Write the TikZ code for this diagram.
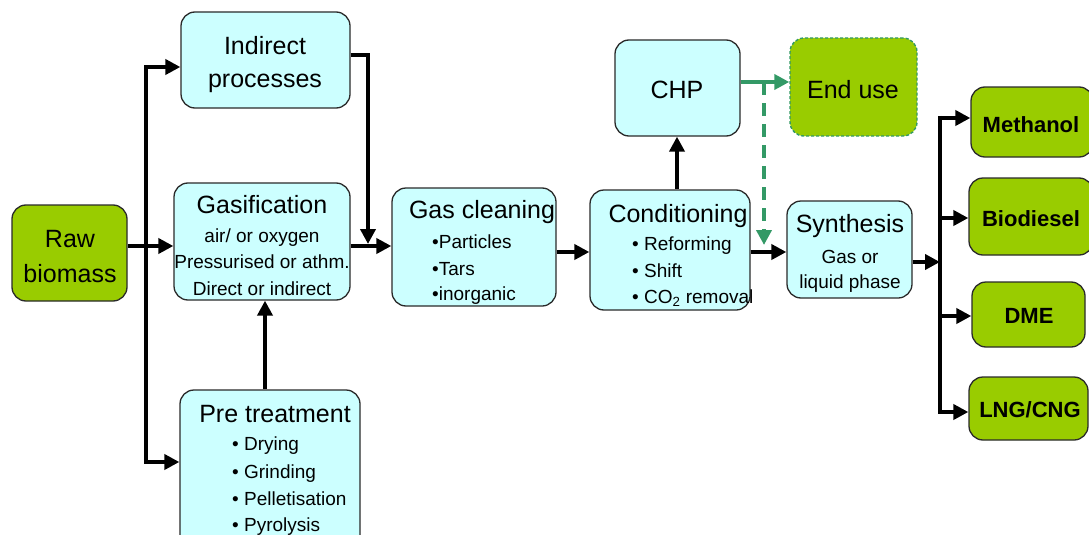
\documentclass[tikz,border=0pt]{standalone}
\usepackage{fontspec}
\setmainfont{Liberation Sans}
\usetikzlibrary{arrows.meta}
\definecolor{cyanbox}{HTML}{CCFFFF}
\definecolor{greenbox}{HTML}{99CC00}
\definecolor{greenline}{HTML}{339966}
\definecolor{edgecol}{HTML}{2A2A2A}
\begin{document}
\begin{tikzpicture}[x=1pt,y=-1pt,
  box/.style={draw=edgecol, line width=1.3pt, rounded corners=14pt, inner sep=0pt},
  cbox/.style={box, fill=cyanbox},
  gbox/.style={box, fill=greenbox},
  arr/.style={line width=4.4pt, -{Triangle[length=15pt,width=15pt]}},
  garr/.style={draw=greenline, line width=4.2pt, -{Triangle[length=15pt,width=15pt]}},
  gdash/.style={garr, dash pattern=on 13pt off 8pt},
  ttl/.style={font=\fontsize{25}{30}\selectfont, inner sep=0pt, anchor=base},
  sub/.style={font=\fontsize{19}{24}\selectfont, inner sep=0pt, anchor=base},
  subl/.style={sub, anchor=base west},
  outtxt/.style={font=\bfseries\fontsize{22}{26}\selectfont, inner sep=0pt, anchor=base}
]
\useasboundingbox (0,0) rectangle (1089,535);

% ---------- boxes ----------
\node[gbox, minimum width=115pt, minimum height=96pt] (raw) at (69.5,253) {};
\node[cbox, minimum width=169pt, minimum height=96pt] (indirect) at (265.5,60) {};
\node[cbox, minimum width=176pt, minimum height=117pt] (gas) at (262,241.5) {};
\node[cbox, minimum width=180pt, minimum height=160pt] (pre) at (270,470) {};
\node[cbox, minimum width=164pt, minimum height=118pt] (clean) at (474,247) {};
\node[cbox, minimum width=160pt, minimum height=120pt] (cond) at (670,250) {};
\node[cbox, minimum width=125pt, minimum height=96pt] (chp) at (677.5,88) {};
\node[box, fill=greenbox, draw=greenline, dash pattern=on 3pt off 2pt, line width=1.4pt, minimum width=127pt, minimum height=98pt] (enduse) at (853.5,87) {};
\node[cbox, minimum width=125pt, minimum height=97pt] (synth) at (849.5,249.5) {};
\node[gbox, minimum width=122pt, minimum height=70pt] (meth) at (1032,122) {};
\node[gbox, minimum width=124pt, minimum height=77pt] (bio) at (1031,216.5) {};
\node[gbox, minimum width=113pt, minimum height=65pt] (dme) at (1028.5,314.5) {};
\node[gbox, minimum width=119pt, minimum height=63pt] (lng) at (1028.5,408.5) {};

% ---------- texts ----------
\node[ttl] (rawa) at (70,247) {Raw};
\node[ttl] (rawb) at (70,282) {biomass};

\node[ttl] (inda) at (265,55) {Indirect};
\node[ttl] (indb) at (265,88) {processes};

\node[ttl] (gast) at (262,213) {Gasification};
\node[sub] (gas1) at (262,242) {air/ or oxygen};
\node[sub] (gas2) at (262,268) {Pressurised or athm.};
\node[sub] (gas3) at (262,295) {Direct or indirect};

\node[ttl] (pret) at (275,422) {Pre treatment};
\node[subl] (pre1) at (232,450) {• Drying};
\node[subl] (pre2) at (232,478) {• Grinding};
\node[subl] (pre3) at (232,505) {• Pelletisation};
\node[subl] (pre4) at (232,531) {• Pyrolysis};

\node[ttl] (cleant) at (482,218) {Gas cleaning};
\node[subl] (clean1) at (432,248) {•Particles};
\node[subl] (clean2) at (432,275) {•Tars};
\node[subl] (clean3) at (432,300) {•inorganic};

\node[ttl] (condt) at (678,222) {Conditioning};
\node[subl] (cond1) at (632,250) {• Reforming};
\node[subl] (cond2) at (632,277) {• Shift};
\node[subl] (cond3) at (632,303) {• CO\textsubscript{2} removal};

\node[ttl] (chpt) at (677,99) {CHP};
\node[ttl] (endt) at (853,99) {End use};

\node[ttl] (syntht) at (850,232) {Synthesis};
\node[sub] (synth1) at (850,263) {Gas or};
\node[sub] (synth2) at (850,288) {liquid phase};

\node[outtxt] (metht) at (1031,132) {Methanol};
\node[outtxt] (biot) at (1031,226) {Biodiesel};
\node[outtxt] (dmet) at (1029,323) {DME};
\node[outtxt] (lngt) at (1030,417) {LNG/CNG};

% ---------- connectors ----------
\coordinate (yg) at (0,246);
\coordinate (t1) at (146,67);
\coordinate (t2) at (146,462);
\coordinate (xd) at (368,0);
\coordinate (xp) at (265,0);
\coordinate (yc) at (0,252);
\coordinate (xc) at (677,0);
\coordinate (yh) at (0,82);
\coordinate (d1) at (764,82);
\coordinate (d2) at (764,245);
\coordinate (ys) at (0,262);
\coordinate (s1) at (940,118);
\coordinate (s2) at (940,412);
\coordinate (sb) at (940,218);
\coordinate (sd) at (940,316);

\draw[arr] (raw.east |- yg) -- (gas.west |- yg);
\draw[arr] (t2) -- (t1) -- (indirect.west |- t1);
\draw[arr] (t1) -- (t2) -- (pre.west |- t2);
\draw[arr] ([yshift=5pt]indirect.east) -| ([yshift=2pt]xd |- yg);
\draw[arr] (gas.east |- yg) -- (clean.west |- yg);
\draw[arr] (pre.north -| xp) -- (gas.south -| xp);
\draw[arr] (clean.east |- yc) -- (cond.west |- yc);
\draw[arr] (cond.north -| xc) -- (chp.south -| xc);
\draw[arr] (cond.east |- yc) -- (synth.west |- yc);
\draw[garr] (chp.east |- yh) -- (enduse.west |- yh);
\draw[gdash] (d1) -- (d2);
\draw[arr] (synth.east |- ys) -- (s1 |- ys);
\draw[line width=4.4pt] ([yshift=2.2pt]s1) -- ([yshift=-2.2pt]s2);
\draw[arr] (s1) -- (meth.west |- s1);
\draw[arr] (sb) -- (bio.west |- sb);
\draw[arr] (sd) -- (dme.west |- sd);
\draw[arr] (s2) -- (lng.west |- s2);
\end{tikzpicture}
\end{document}
